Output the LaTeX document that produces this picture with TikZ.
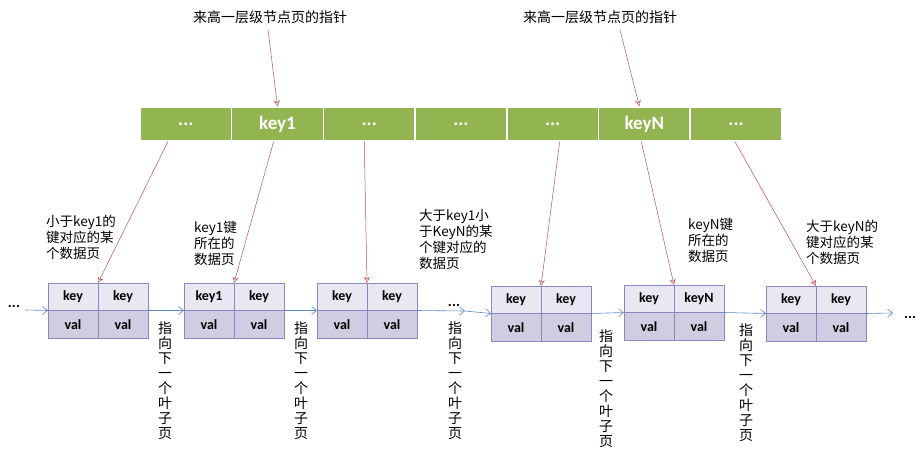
\documentclass[tikz,border=0pt]{standalone}
\usepackage{fontspec}
\usetikzlibrary{arrows.meta}
\setmainfont{Carlito}
\newfontfamily\cjk{Noto Sans CJK SC}
\definecolor{barg}{HTML}{92B451}
\definecolor{cbord}{HTML}{9086BE}
\definecolor{ctop}{HTML}{E9E7F1}
\definecolor{cbot}{HTML}{D0CCE1}
\definecolor{redc}{HTML}{C0504D}
\definecolor{bluc}{HTML}{5B8BC6}
\begin{document}
\begin{tikzpicture}[x=1pt,y=-1pt,
  redar/.style={draw=redc,-{Stealth[open,length=6pt,width=6pt]}, line width=0.5pt},
  bluar/.style={draw=bluc,-{Straight Barb[length=5pt,width=8pt]}, line width=0.6pt},
  cellt/.style={draw=cbord, fill=ctop, minimum width=50pt, minimum height=27.5pt, inner sep=0pt, font=\bfseries\fontsize{14}{14}\selectfont, line width=0.8pt},
  cellb/.style={cellt, fill=cbot},
  bar/.style={fill=barg, draw=white, line width=1.5pt, minimum width=91.7pt, minimum height=34pt, inner sep=0pt, text=white, font=\bfseries\fontsize{19}{19}\selectfont},
  lab/.style={font=\cjk\fontsize{13.5}{16}\selectfont, align=left, anchor=north west, inner sep=0pt},
  vlab/.style={font=\cjk\fontsize{14}{15}\selectfont, align=center, anchor=north, inner sep=0pt},
  dots/.style={font=\bfseries\fontsize{15}{15}\selectfont, inner sep=0pt}]
\useasboundingbox (0,0) rectangle (920,454);
% top bar
\def\dd{...}
\foreach \t [count=\i] in {\dd,key1,\dd,\dd,\dd,keyN,\dd}
  \node[bar] (b\i) at ({140+91.7*(\i-0.5)},124) {\t};
% top labels
\node[font=\cjk\fontsize{14}{14}\selectfont] (t1) at (270,17) {来高一层级节点页的指针};
\node[font=\cjk\fontsize{14}{14}\selectfont] (t2) at (600,17) {来高一层级节点页的指针};
\coordinate (t1e) at (268,30); \coordinate (t2e) at (620,30);
% leaf boxes
\newcommand\leaf[5]{%
  \node[cellt] (#1a) at ({#2+25},{#3+13.75}) {#4};
  \node[cellt] (#1b) at ({#2+75},{#3+13.75}) {#5};
  \node[cellb] (#1c) at ({#2+25},{#3+41.25}) {val};
  \node[cellb] (#1d) at ({#2+75},{#3+41.25}) {val};
  \coordinate (#1L) at (#2,{#3+27.5});
  \coordinate (#1R) at ({#2+100},{#3+27.5});
  \coordinate (#1T) at ({#2+50},#3);}
\leaf{p}{48}{283}{key}{key}
\leaf{q}{184}{283}{key1}{key}
\leaf{r}{317}{283}{key}{key}
\leaf{s}{491}{286}{key}{key}
\leaf{u}{624}{285}{key}{keyN}
\leaf{w}{766}{286}{key}{key}
% dots
\node[dots] (d0) at (14,306) {...};
\node[dots] (d1) at (454,305) {...};
\node[dots] (d2) at (910,317) {...};
\coordinate (d0e) at (25,310);
\coordinate (d1s) at (465,311);
\coordinate (d2s) at (893,313);
\draw[bluar] (d0e) -- (pL);
\draw[bluar] (pR) -- (qL);
\draw[bluar] (qR) -- (rL);
\draw[bluar] (rR) -- (d1s);
\draw[bluar] (d1s) -- (sL);
\draw[bluar] (sR) -- (uL);
\draw[bluar] (uR) -- (wL);
\draw[bluar] (wR) -- (d2s);
% red arrows
\draw[redar] (t1e) -- (b2.north);
\draw[redar] (t2e) -- ([xshift=-5pt]b6.north);
\draw[redar] ([xshift=-18pt]b1.south) -- (pT);
\draw[redar] ([xshift=-4pt]b2.south) -- (qT);
\draw[redar] ([xshift=-5pt]b3.south) -- (rT);
\draw[redar] ([xshift=7pt]b5.south) -- (sT);
\draw[redar] ([xshift=-3pt]b6.south) -- (uT);
\draw[redar] ([xshift=-1pt]b7.south) -- (wT);
% labels
\node[lab] (l1) at (46,215) {小于key1的\\键对应的某\\个数据页};
\node[lab] (l2) at (194,221) {key1键\\所在的\\数据页};
\node[lab] (l3) at (419,209) {大于key1小\\于KeyN的某\\个键对应的\\数据页};
\node[lab] (l4) at (688,218) {keyN键\\所在的\\数据页};
\node[lab] (l5) at (806,220) {大于keyN的\\键对应的某\\个数据页};
% vertical labels
\foreach \x/\y [count=\i] in {165/322, 301/322, 455/322, 606/330, 746/324}
  \node[vlab] (v\i) at (\x,\y) {指\\向\\下\\一\\个\\叶\\子\\页};
\end{tikzpicture}
\end{document}
